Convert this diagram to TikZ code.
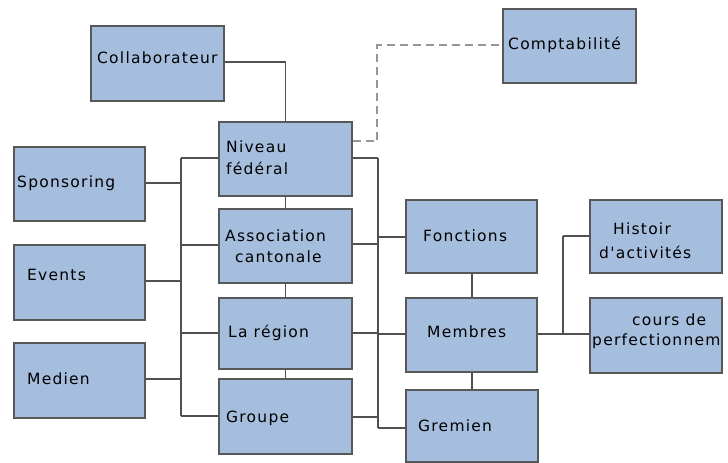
\documentclass[tikz,border=0pt]{standalone}
\usepackage{fontspec}
\setmainfont{DejaVu Sans}[LetterSpace=8.0,Ligatures=TeXOff]
\begin{document}
\begin{tikzpicture}[x=1pt,y=-1pt,
  box/.style={draw=boxline,fill=boxfill,line width=1.5pt,inner sep=0pt},
  txt/.style={anchor=west,inner sep=0pt,font=\fontsize{15.5}{18}\selectfont,text=black},
  conn/.style={draw=connline,line width=1.5pt},
  dconn/.style={draw=dashline,line width=2pt,dash pattern=on 8pt off 5pt}]
\definecolor{boxfill}{RGB}{166,190,222}
\definecolor{boxline}{RGB}{88,88,88}
\definecolor{connline}{RGB}{80,80,80}
\definecolor{dashline}{RGB}{150,150,150}
\useasboundingbox[fill=white] (0,0) rectangle (728,463);
% boxes
\newcommand{\mybox}[5]{\node[box,minimum width=#4-#2,minimum height=#5-#3,anchor=north west] (#1) at (#2,#3) {};}
\mybox{collab}{90}{25}{223}{100}
\mybox{compta}{502}{8}{635}{82}
\mybox{niveau}{218}{121}{351}{195}
\mybox{spons}{13}{146}{144}{220}
\mybox{assoc}{218}{208}{351}{282}
\mybox{events}{13}{244}{144}{319}
\mybox{region}{218}{297}{351}{368}
\mybox{medien}{13}{342}{144}{417}
\mybox{groupe}{218}{378}{351}{453}
\mybox{fonct}{405}{199}{536}{272}
\mybox{membres}{405}{297}{536}{371}
\mybox{gremien}{405}{389}{537}{461}
\mybox{histoir}{589}{199}{721}{272}
\mybox{cours}{589}{297}{721}{372}
% texts
\node[txt] (t-collab) at (97,58) {Collaborateur};
\node[txt] (t-compta) at (508,45) {Comptabilité};
\node[txt] (t-niv1) at (226,147) {Niveau};
\node[txt] (t-niv2) at (226,168) {fédéral};
\node[txt] (t-spons) at (17,183) {Sponsoring};
\node[txt] (t-assoc1) at (225,236) {Association};
\node[txt] (t-assoc2) at (235,257) {cantonale};
\node[txt] (t-events) at (27,275) {Events};
\node[txt] (t-region) at (228,333) {La région};
\node[txt] (t-medien) at (27,379) {Medien};
\node[txt] (t-groupe) at (226,418) {Groupe};
\node[txt] (t-fonct) at (423,236) {Fonctions};
\node[txt] (t-membres) at (427,332) {Membres};
\node[txt] (t-gremien) at (418,426) {Gremien};
\node[txt] (t-hist1) at (613,229) {Histoir};
\node[txt] (t-hist2) at (599,252) {d'activités};
\node[txt] (t-cours1) at (632,320) {cours de};
\node[txt] (t-cours2) at (592,341) {perfectionnem};
% connectors
\coordinate (lb) at (181,0);
\coordinate (rb) at (378,0);
\coordinate (mb) at (563,0);
\draw[conn] (collab.east |- 0,62) -| (niveau.north);
\draw[dconn] (niveau.east |- 0,141) -| (377,45) -- (compta.west |- 0,45);
% left bus
\draw[conn] (lb |- 0,158) -- (lb |- 0,416);
\draw[conn] (niveau.west |- 0,158) -- (lb |- 0,158);
\draw[conn] (spons.east |- 0,183) -- (lb |- 0,183);
\draw[conn] (assoc.west |- 0,245) -- (lb |- 0,245);
\draw[conn] (events.east |- 0,281) -- (lb |- 0,281);
\draw[conn] (region.west |- 0,333) -- (lb |- 0,333);
\draw[conn] (medien.east |- 0,379) -- (lb |- 0,379);
\draw[conn] (groupe.west |- 0,416) -- (lb |- 0,416);
% central chain
\draw[conn] (niveau.south) -- (assoc.north);
\draw[conn] (assoc.south) -- (region.north);
\draw[conn] (region.south) -- (groupe.north);
% right bus
\draw[conn] (rb |- 0,158) -- (rb |- 0,428);
\draw[conn] (niveau.east |- 0,158) -- (rb |- 0,158);
\draw[conn] (assoc.east |- 0,244) -- (rb |- 0,244);
\draw[conn] (region.east |- 0,333) -- (rb |- 0,333);
\draw[conn] (groupe.east |- 0,417) -- (rb |- 0,417);
\draw[conn] (rb |- 0,237) -- (fonct.west |- 0,237);
\draw[conn] (rb |- 0,334) -- (membres.west |- 0,334);
\draw[conn] (rb |- 0,428) -- (gremien.west |- 0,428);
\draw[conn] (fonct.south -| 472,0) -- (membres.north -| 472,0);
\draw[conn] (membres.south -| 472,0) -- (gremien.north -| 472,0);
% membres to right
\draw[conn] (membres.east |- 0,334) -- (mb |- 0,334);
\draw[conn] (mb |- 0,236) -- (mb |- 0,334);
\draw[conn] (mb |- 0,236) -- (histoir.west |- 0,236);
\draw[conn] (mb |- 0,334) -- (cours.west |- 0,334);
\end{tikzpicture}
\end{document}
